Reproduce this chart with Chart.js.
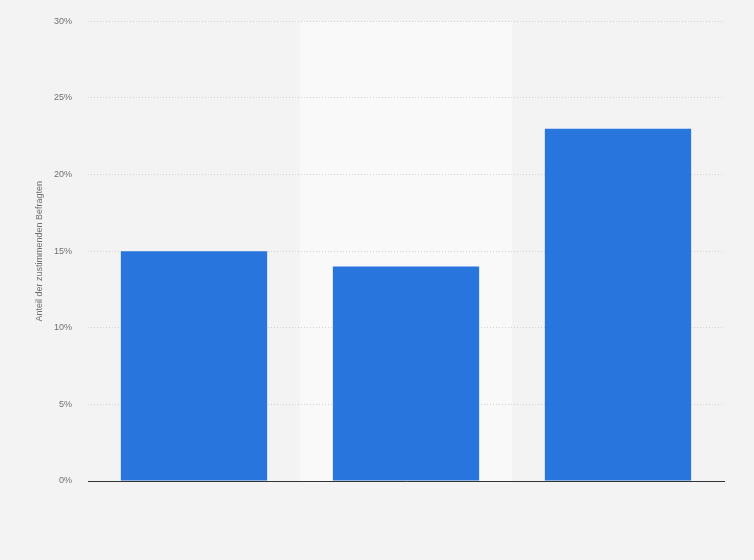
<!DOCTYPE html>
<html>
<head>
<meta charset="utf-8">
<script src="https://cdn.jsdelivr.net/npm/chart.js@4"></script>
<style>
  html, body { margin: 0; padding: 0; background: #f3f3f3; }
  #wrap { width: 754px; height: 560px; position: relative; }
</style>
</head>
<body>
<div id="wrap"><canvas id="chart"></canvas></div>
<script>
// Categories have no visible labels in the source picture
const categories = ['', ' ', '  '];
const shares = [15, 14, 23];
const yTicks = [0, 5, 10, 15, 20, 25, 30];

// Page background plus a lighter band behind the middle category (under the grid)
const bgPlugin = {
    id: 'bg',
    beforeDraw(chart) {
        const ctx = chart.ctx;
        const x = chart.scales.x;
        const area = chart.chartArea;
        const step = (x.right - x.left) / categories.length;
        const c = x.getPixelForValue(1);
        ctx.save();
        ctx.fillStyle = '#f3f3f3';
        ctx.fillRect(0, 0, chart.width, chart.height);
        ctx.fillStyle = '#f9f9f9';
        ctx.fillRect(c - step / 2, area.top, step, area.bottom - area.top);
        ctx.restore();
    }
};

new Chart(document.getElementById('chart').getContext('2d'), {
    type: 'bar',
    data: {
        labels: categories,
        datasets: [{
            data: shares,
            backgroundColor: '#2876dd',
            borderWidth: 0,
            categoryPercentage: 1,
            barPercentage: 0.69,
        }],
    },
    options: {
        responsive: true,
        maintainAspectRatio: false,
        animation: false,
        layout: { padding: { top: 19, right: 30, bottom: 79, left: 0 } },
        plugins: { legend: { display: false }, tooltip: { enabled: false } },
        scales: {
            x: {
                grid: { display: false, drawTicks: false },
                border: { color: '#333333', width: 1 },
                ticks: { display: false },
                afterFit: s => { s.height = 0; },
            },
            y: {
                min: 0,
                max: 30,
                afterFit: s => { s.width = 88; },
                afterBuildTicks: s => { s.ticks = yTicks.map(v => ({ value: v })); },
                border: { display: false, dash: [1, 2] },
                grid: { color: '#d2d2d2', lineWidth: 1, drawTicks: false },
                ticks: {
                    padding: 16,
                    color: '#707070',
                    font: { family: 'Liberation Sans, Arial, sans-serif', size: 9 },
                    callback: v => v + '%',
                },
                title: {
                    display: true,
                    text: 'Anteil der zustimmenden Befragten',
                    color: '#707070',
                    font: { family: 'Liberation Sans, Arial, sans-serif', size: 9 },
                    padding: { top: 34, bottom: 0 },
                },
            },
        },
    },
    plugins: [bgPlugin],
});
</script>
</body>
</html>
